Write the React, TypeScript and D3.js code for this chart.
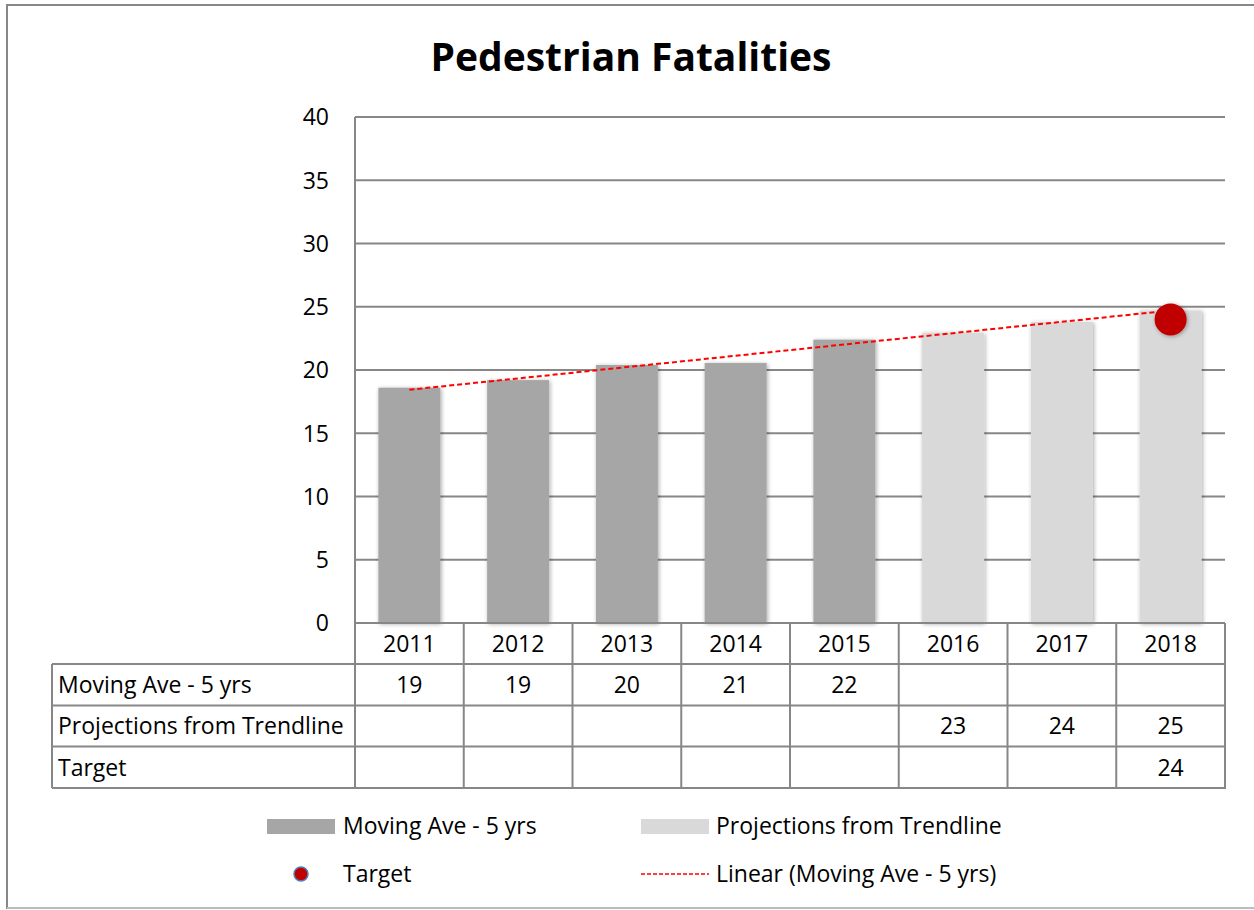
import React, { useRef, useEffect } from "react";
import * as d3 from "d3";

const years = ["2011", "2012", "2013", "2014", "2015", "2016", "2017", "2018"];
const movingAve = [18.6, 19.2, 20.4, 20.55, 22.4, null, null, null];
const projections = [null, null, null, null, null, 22.95, 23.8, 24.7];
const target = [null, null, null, null, null, null, null, 24.0];
const rowLabels = ["Moving Ave - 5 yrs", "Projections from Trendline", "Target"];
const yTicks = [0, 5, 10, 15, 20, 25, 30, 35, 40];

const FONT = "'Open Sans', Lato, sans-serif";
const FS = "23px";
const GRID = "#878787";
const DARK = "#A6A6A6";
const LIGHT = "#D9D9D9";
const RED = "#C00000";

const App = () => {
  const svgRef = useRef<SVGSVGElement>(null);

  useEffect(() => {
    const svg = d3.select(svgRef.current);
    svg.selectAll("*").remove();

    const W = 1254;
    const plot = { left: 355, right: 1225, top: 117, bottom: 623 };

    // shadow filter for bars and marker
    const defs = svg.append("defs");
    const f = defs
      .append("filter")
      .attr("id", "shadow")
      .attr("x", "-20%")
      .attr("y", "-20%")
      .attr("width", "140%")
      .attr("height", "140%");
    f.append("feDropShadow")
      .attr("dx", 1)
      .attr("dy", 1)
      .attr("stdDeviation", 2)
      .attr("flood-color", "#000")
      .attr("flood-opacity", 0.35);

    // frame
    svg
      .append("rect")
      .attr("x", 7)
      .attr("y", 5)
      .attr("width", W + 10)
      .attr("height", 903)
      .attr("fill", "white")
      .attr("stroke", GRID)
      .attr("stroke-width", 2);
    svg
      .append("line")
      .attr("x1", 7)
      .attr("x2", W)
      .attr("y1", 908)
      .attr("y2", 908)
      .attr("stroke", "#BDBDBD")
      .attr("stroke-width", 2);

    // title
    svg
      .append("text")
      .attr("x", 631)
      .attr("y", 71)
      .attr("text-anchor", "middle")
      .style("font-family", FONT)
      .style("font-weight", "bold")
      .style("font-size", "39px")
      .text("Pedestrian Fatalities");

    const x = d3.scaleBand().domain(years).range([plot.left, plot.right]).padding(0);
    const y = d3.scaleLinear().domain([0, 40]).range([plot.bottom, plot.top]);
    const barW = x.bandwidth() * 0.57;
    const cx = (d: string) => (x(d) as number) + x.bandwidth() / 2;

    // gridlines
    svg
      .append("g")
      .selectAll("line")
      .data(yTicks)
      .enter()
      .append("line")
      .attr("x1", plot.left)
      .attr("x2", plot.right)
      .attr("y1", (d) => y(d))
      .attr("y2", (d) => y(d))
      .attr("stroke", GRID)
      .attr("stroke-width", 2);

    // y tick labels
    svg
      .append("g")
      .selectAll("text")
      .data(yTicks)
      .enter()
      .append("text")
      .attr("x", 329)
      .attr("y", (d) => y(d))
      .attr("dy", "0.36em")
      .attr("text-anchor", "end")
      .style("font-family", FONT)
      .style("font-size", FS)
      .text((d) => d);

    // bars
    const drawBars = (vals: (number | null)[], color: string) => {
      svg
        .append("g")
        .selectAll("rect")
        .data(years.map((yr, i) => ({ yr, v: vals[i] })).filter((d) => d.v != null))
        .enter()
        .append("rect")
        .attr("x", (d) => cx(d.yr) - barW / 2)
        .attr("y", (d) => y(d.v as number))
        .attr("width", barW)
        .attr("height", (d) => y(0) - y(d.v as number))
        .attr("fill", color)
        .attr("filter", "url(#shadow)");
    };
    drawBars(movingAve, DARK);
    drawBars(projections, LIGHT);

    // redraw 0 line over bar bottoms
    svg
      .append("line")
      .attr("x1", plot.left)
      .attr("x2", plot.right)
      .attr("y1", y(0))
      .attr("y2", y(0))
      .attr("stroke", GRID)
      .attr("stroke-width", 2);

    // linear trendline of moving average (least squares)
    const pts = movingAve
      .map((v, i) => ({ i: i + 1, v }))
      .filter((d) => d.v != null) as { i: number; v: number }[];
    const mx = d3.mean(pts, (d) => d.i) as number;
    const my = d3.mean(pts, (d) => d.v) as number;
    const slope =
      (d3.sum(pts, (d) => (d.i - mx) * (d.v - my)) as number) /
      (d3.sum(pts, (d) => (d.i - mx) ** 2) as number);
    const trend = (i: number) => my + slope * (i - mx);
    const trendPts = [1, years.length].map((i) => [cx(years[i - 1]), y(trend(i))] as [number, number]);
    svg
      .append("path")
      .attr("d", d3.line()(trendPts))
      .attr("fill", "none")
      .attr("stroke", "#FF0000")
      .attr("stroke-width", 2)
      .attr("stroke-dasharray", "5,3");

    // target marker
    svg
      .append("g")
      .selectAll("circle")
      .data(years.map((yr, i) => ({ yr, v: target[i] })).filter((d) => d.v != null))
      .enter()
      .append("circle")
      .attr("cx", (d) => cx(d.yr))
      .attr("cy", (d) => y(d.v as number))
      .attr("r", 16)
      .attr("fill", RED)
      .attr("filter", "url(#shadow)");

    // y axis line (runs down through the data table)
    const rowY = [623, 664, 705.5, 746.5, 788];
    svg
      .append("line")
      .attr("x1", plot.left)
      .attr("x2", plot.left)
      .attr("y1", plot.top)
      .attr("y2", rowY[4])
      .attr("stroke", GRID)
      .attr("stroke-width", 2);

    // data table
    const table = svg.append("g");
    const colEdges = years.map((yr) => (x(yr) as number) + x.bandwidth());
    colEdges.forEach((xe) => {
      table
        .append("line")
        .attr("x1", xe)
        .attr("x2", xe)
        .attr("y1", rowY[0])
        .attr("y2", rowY[4])
        .attr("stroke", GRID)
        .attr("stroke-width", 2);
    });
    [1, 2, 3, 4].forEach((r) => {
      table
        .append("line")
        .attr("x1", 52)
        .attr("x2", plot.right + 1)
        .attr("y1", rowY[r])
        .attr("y2", rowY[r])
        .attr("stroke", GRID)
        .attr("stroke-width", 2);
    });
    table
      .append("line")
      .attr("x1", 52)
      .attr("x2", 52)
      .attr("y1", rowY[1])
      .attr("y2", rowY[4])
      .attr("stroke", GRID)
      .attr("stroke-width", 2);

    const cellText = (tx: number, ty: number, s: string, anchor = "middle") =>
      table
        .append("text")
        .attr("x", tx)
        .attr("y", ty)
        .attr("dy", "0.36em")
        .attr("text-anchor", anchor)
        .style("font-family", FONT)
        .style("font-size", FS)
        .text(s);

    years.forEach((yr) => cellText(cx(yr), (rowY[0] + rowY[1]) / 2, yr));
    const rows = [movingAve, projections, target];
    rows.forEach((vals, r) => {
      const ty = (rowY[r + 1] + rowY[r + 2]) / 2;
      cellText(58, ty, rowLabels[r], "start");
      vals.forEach((v, i) => {
        if (v != null) cellText(cx(years[i]), ty, String(Math.round(v)));
      });
    });

    // legend
    const leg = svg.append("g").style("font-family", FONT).style("font-size", FS);
    const legText = (tx: number, ty: number, s: string) =>
      leg.append("text").attr("x", tx).attr("y", ty).attr("dy", "0.36em").text(s);

    leg.append("rect").attr("x", 267).attr("y", 819).attr("width", 68).attr("height", 15).attr("fill", DARK);
    legText(343, 826, "Moving Ave - 5 yrs");
    leg.append("rect").attr("x", 641).attr("y", 819).attr("width", 68).attr("height", 15).attr("fill", LIGHT);
    legText(716, 826, "Projections from Trendline");
    leg
      .append("circle")
      .attr("cx", 301)
      .attr("cy", 874)
      .attr("r", 7)
      .attr("fill", RED)
      .attr("stroke", "#4F81BD")
      .attr("stroke-width", 1.5);
    legText(343, 874, "Target");
    leg
      .append("line")
      .attr("x1", 641)
      .attr("x2", 709)
      .attr("y1", 874)
      .attr("y2", 874)
      .attr("stroke", "#FF0000")
      .attr("stroke-width", 1.5)
      .attr("stroke-dasharray", "4,2");
    legText(716, 874, "Linear (Moving Ave - 5 yrs)");
  }, []);

  return (
    <svg
      ref={svgRef}
      width={1254}
      height={910}
      style={{ position: "absolute", left: 0, top: 0, display: "block" }}
    ></svg>
  );
};

export default App;
